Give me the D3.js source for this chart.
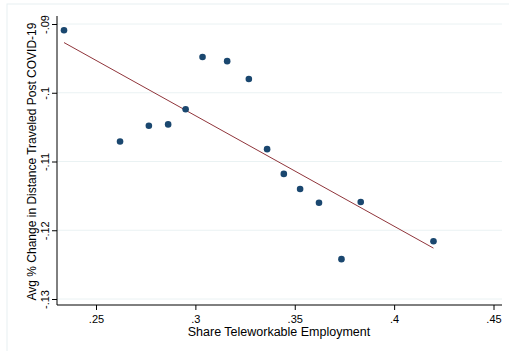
<!DOCTYPE html>
<html><head><meta charset="utf-8">
<script src="https://cdn.jsdelivr.net/npm/d3@7"></script>
<style>body{margin:0;background:#fff}svg{display:block}text{font-family:"Liberation Sans",Arial,sans-serif;fill:#000}</style>
</head><body><svg id="c" width="509" height="351"></svg>
<script>
const share = [0.2339,0.2621,0.2766,0.2863,0.2951,0.3036,0.3160,0.3269,0.3361,0.3445,0.3527,0.3622,0.3735,0.3832,0.4198];
const change = [-0.0909,-0.1071,-0.1048,-0.1046,-0.1024,-0.0948,-0.0954,-0.0980,-0.1082,-0.1118,-0.1140,-0.1160,-0.1242,-0.1159,-0.1216];
const fitX = [0.2339,0.4198];
const fitY = [-0.0927,-0.1226];
const xTicks = [0.25,0.3,0.35,0.4,0.45];
const xTickLabels = [".25",".3",".35",".4",".45"];
const yTicks = [-0.09,-0.1,-0.11,-0.12,-0.13];
const yTickLabels = ["-.09","-.1","-.11","-.12","-.13"];

(function(){
const svg = d3.select("#c");
svg.append("rect").attr("x",7).attr("y",4).attr("width",520).attr("height",360)
  .attr("fill","none").attr("stroke","#e8eff2").attr("stroke-width",1);

const x = d3.scaleLinear().domain([0.25,0.45]).range([96,493.5]);
const y = d3.scaleLinear().domain([-0.09,-0.13]).range([24,299]);
const pl = 57, pr = 502, pt = 16, pb = 305;

svg.append("g").selectAll("line").data(yTicks).join("line")
  .attr("x1",pl).attr("x2",pr).attr("y1",d=>y(d)).attr("y2",d=>y(d))
  .attr("stroke","#eaf2f3").attr("stroke-width",1);

const yAxis = d3.axisLeft(y).tickValues(yTicks).tickFormat((d,i)=>yTickLabels[i]).tickSize(5);
const gy = svg.append("g").attr("transform",`translate(${pl},0)`).call(yAxis);
gy.select(".domain").remove();
gy.selectAll(".tick line").attr("stroke","#000");
gy.selectAll(".tick text").attr("text-anchor","middle").attr("font-size",11)
  .attr("x",0).attr("y",0).attr("dy",0).attr("transform","translate(-8.5,0) rotate(-90)");
svg.append("line").attr("x1",pl).attr("x2",pl).attr("y1",pt).attr("y2",pb).attr("stroke","#000");

const xAxis = d3.axisBottom(x).tickValues(xTicks).tickFormat((d,i)=>xTickLabels[i]).tickSize(5).tickPadding(5.5);
const gx = svg.append("g").attr("transform",`translate(0,${pb})`).call(xAxis);
gx.select(".domain").remove();
gx.selectAll(".tick line").attr("stroke","#000");
gx.selectAll(".tick text").attr("font-size",11).attr("dy","0.71em");
svg.append("line").attr("x1",pl).attr("x2",pr).attr("y1",pb).attr("y2",pb).attr("stroke","#000");

svg.append("path").datum(fitX.map((v,i)=>[v,fitY[i]]))
  .attr("d",d3.line().x(d=>x(d[0])).y(d=>y(d[1])))
  .attr("fill","none").attr("stroke","#90353b").attr("stroke-width",1);

svg.append("g").selectAll("circle").data(share.map((v,i)=>[v,change[i]])).join("circle")
  .attr("cx",d=>x(d[0])).attr("cy",d=>y(d[1])).attr("r",3.3).attr("fill","#1a476f");

svg.append("text").attr("x",279).attr("y",336).attr("text-anchor","middle")
  .attr("font-size",12.5).text("Share Teleworkable Employment");
svg.append("text").attr("transform",`translate(36,${(pt+pb)/2+1}) rotate(-90)`).attr("text-anchor","middle")
  .attr("font-size",12).text("Avg % Change in Distance Traveled Post COVID-19");
})();
</script></body></html>
